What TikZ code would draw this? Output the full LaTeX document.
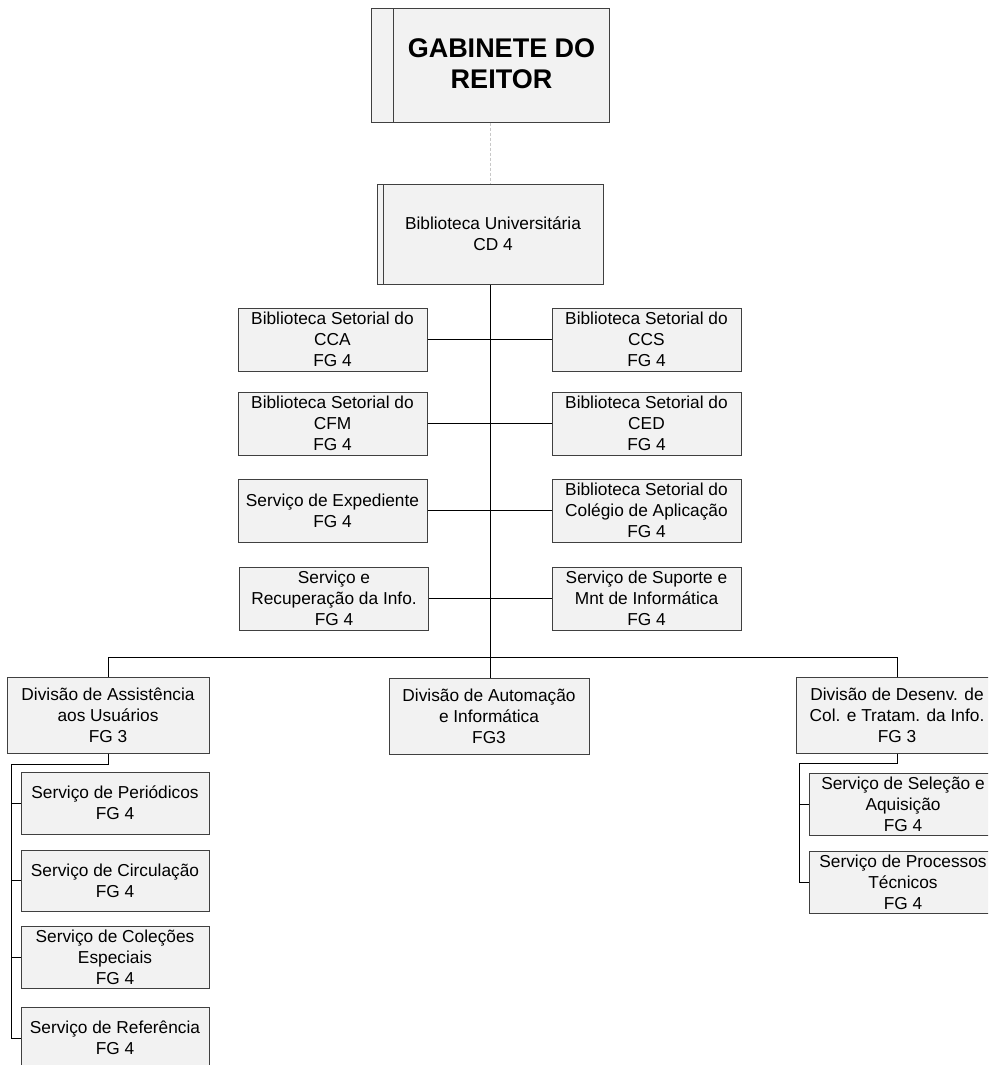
\documentclass[tikz,border=0pt]{standalone}
\usepackage{fontspec}
\setmainfont{Liberation Sans}
\definecolor{boxfill}{HTML}{F2F2F2}
\definecolor{boxline}{HTML}{404040}
\definecolor{dashcol}{HTML}{C8C8C8}
\newcommand{\orgfs}{\fontsize{17.3}{21}\selectfont}
\newcommand{\orgtitle}{\fontsize{27}{31}\selectfont\bfseries}
\begin{document}
\begin{tikzpicture}[x=1pt,y=-1pt,
  box/.style={draw=boxline, fill=boxfill, line width=1pt, inner sep=0pt, align=center, font=\orgfs, text=black},
  sbox/.style={box, minimum width=189pt, minimum height=63pt},
  dbox/.style={box, minimum width=202pt, minimum height=76pt},
  subbox/.style={box, minimum width=188pt, minimum height=62pt},
  con/.style={draw=black, line width=0.9pt},
  dashcon/.style={draw=dashcol, line width=1pt, dash pattern=on 3pt off 2pt}]
\useasboundingbox (0,0) rectangle (988,1065);
\clip (0,0) rectangle (988,1065);
\fill[white] (0,0) rectangle (988,1065);

% top
\node[box, minimum width=238pt, minimum height=113pt] (gab) at (490,65.5) {};
\draw[draw=boxline, line width=1pt] (393,9) -- (393,122);
\node[font=\orgtitle, align=center, inner sep=0pt] (gabtxt) at (501.5,64) {GABINETE DO\\REITOR};

\node[box, minimum width=226pt, minimum height=100pt] (bu) at (490,234) {\hspace*{6pt}Biblioteca Universitária\\\hspace*{6pt}CD 4};
\draw[draw=boxline, line width=1pt] (383,184) -- (383,284);

\draw[dashcon] (gab.south) -- (bu.north);

% side boxes
\node[sbox] (l1) at (332.5,339.5) {Biblioteca Setorial do\\CCA\\FG 4};
\node[sbox] (l2) at (332.5,423.5) {Biblioteca Setorial do\\CFM\\FG 4};
\node[sbox] (l3) at (332.5,510.5) {Serviço de Expediente\\FG 4};
\node[sbox] (l4) at (334,598.5) {Serviço e\\Recuperação da Info.\\FG 4};
\node[sbox] (r1) at (646.5,339.5) {Biblioteca Setorial do\\CCS\\FG 4};
\node[sbox] (r2) at (646.5,423.5) {Biblioteca Setorial do\\CED\\FG 4};
\node[sbox] (r3) at (646.5,510.5) {Biblioteca Setorial do\\Colégio de Aplicação\\FG 4};
\node[sbox] (r4) at (646.5,598.5) {Serviço de Suporte e\\Mnt de Informática\\FG 4};

\coordinate (bar) at (490,657);
\coordinate (barL) at (108,657);
\coordinate (barR) at (897,657);

\draw[con] (bu.south) -- (bar);
\draw[con] (l1.east) -- (r1.west);
\draw[con] (l2.east) -- (r2.west);
\draw[con] (l3.east) -- (r3.west);
\draw[con] (l4.east) -- (r4.west);

% divisions
\node[dbox] (da) at (108,715) {Divisão de Assistência\\aos Usuários\\FG 3};
\node[box, minimum width=200pt, minimum height=76pt] (di) at (489,716.5) {Divisão de Automação\\e Informática\\FG3};
\node[dbox] (dd) at (897,715) {Divisão de Desenv. de\\Col. e Tratam. da Info.\\FG 3};

\draw[con] (barL) -- (barR);
\draw[con] (barL) -- (da.north);
\draw[con] (bar) -- (bar |- di.north);
\draw[con] (barR) -- (dd.north);

% left subtree
\node[subbox] (s1) at (115,803) {Serviço de Periódicos\\FG 4};
\node[subbox, minimum height=61pt] (s2) at (115,880.5) {Serviço de Circulação\\FG 4};
\node[subbox] (s3) at (115,957) {Serviço de Coleções\\Especiais\\FG 4};
\node[subbox] (s4) at (115,1038) {Serviço de Referência\\FG 4};

\coordinate (tl) at (11,764);
\draw[con] (da.south) -- (da.south |- tl) -- (tl) -- (tl |- s4.west) -- (s4.west);
\draw[con] (tl |- s1.west) -- (s1.west);
\draw[con] (tl |- s2.west) -- (s2.west);
\draw[con] (tl |- s3.west) -- (s3.west);

% right subtree
\node[subbox] (t1) at (903,804) {Serviço de Seleção e\\Aquisição\\FG 4};
\node[subbox] (t2) at (903,882) {Serviço de Processos\\Técnicos\\FG 4};

\coordinate (tr) at (799,763);
\draw[con] (dd.south) -- (dd.south |- tr) -- (tr) -- (tr |- t2.west) -- (t2.west);
\draw[con] (tr |- t1.west) -- (t1.west);
\end{tikzpicture}
\end{document}
